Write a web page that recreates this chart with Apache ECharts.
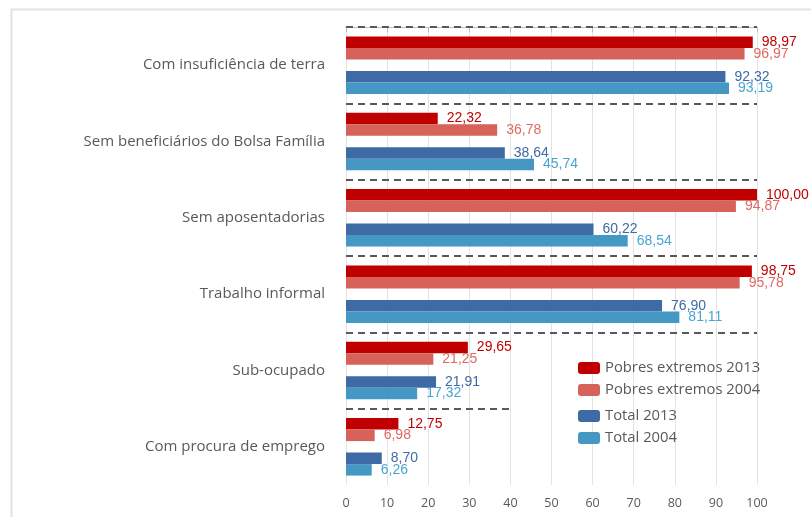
<!DOCTYPE html>
<html><head><meta charset="utf-8">
<script src="https://cdn.jsdelivr.net/npm/echarts@6/dist/echarts.min.js"></script>
<style>html,body{margin:0;padding:0;background:#fff}#c{width:811px;height:517px}</style>
</head><body><div id="c"></div>
<script>
const categories = ['Com insuficiência de terra','Sem beneficiários do Bolsa Família','Sem aposentadorias','Trabalho informal','Sub-ocupado','Com procura de emprego'];
const pobres2013 = [98.97, 22.32, 100.00, 98.75, 29.65, 12.75];
const pobres2004 = [96.97, 36.78, 94.87, 95.78, 21.25, 6.98];
const total2013 = [92.32, 38.64, 60.22, 76.90, 21.91, 8.70];
const total2004 = [93.19, 45.74, 68.54, 81.11, 17.32, 6.26];
const xTicks = [0,10,20,30,40,50,60,70,80,90,100];
const sepPos = [0,1,2,3,4,5];
const sepEnd = [100,100,100,100,100,40];

const fmt = p => p.value.toFixed(2).replace('.', ',');
const VFONT = 'Liberation Sans';
const FONT = 'Open Sans';
function barSeries(name, data, color, labelColor) {
  return {
    name, type: 'bar', data, barWidth: 11.5, barGap: '0%',
    itemStyle: { color },
    label: { show: true, position: 'right', distance: 9, formatter: fmt, color: labelColor, fontSize: 14, fontFamily: VFONT }
  };
}
const legendText = { color: '#595959', fontSize: 14.8, fontFamily: FONT, lineHeight: 17 };
const chart = echarts.init(document.getElementById('c'), null, { renderer: 'canvas' });
chart.setOption({
  animation: false,
  textStyle: { fontFamily: FONT },
  graphic: [{ type: 'rect', left: 9, top: 7, shape: { width: 830, height: 530 }, style: { fill: 'none', stroke: '#e2e2e2', lineWidth: 2 }, silent: true }],
  grid: { left: 346, right: 54, top: 27, bottom: 32 },
  legend: [
    { data: ['Pobres extremos 2013','Pobres extremos 2004'], orient: 'vertical', left: 578, top: 359.5, padding: 0, itemWidth: 22, itemHeight: 12, itemGap: 5, textStyle: legendText },
    { data: ['Total 2013','Total 2004'], orient: 'vertical', left: 578, top: 407.5, padding: 0, itemWidth: 22, itemHeight: 12, itemGap: 5, textStyle: legendText }
  ],
  xAxis: {
    type: 'value', min: 0, max: 100, interval: 10,
    axisLine: { show: true, lineStyle: { color: '#bfbfbf' } },
    axisTick: { show: true, length: 5, lineStyle: { color: '#bfbfbf' } },
    axisLabel: { color: '#595959', fontSize: 12.5, margin: 12, fontFamily: FONT, customValues: xTicks },
    splitLine: { show: true, lineStyle: { color: '#e3e3e3' } }
  },
  yAxis: [
    { type: 'category', data: categories, inverse: true,
      axisLine: { show: false }, axisTick: { show: false },
      axisLabel: { color: '#595959', fontSize: 15, margin: 21, fontFamily: FONT } },
    { type: 'value', min: 0, max: 6, inverse: true, show: false }
  ],
  series: [
    barSeries('Pobres extremos 2013', pobres2013, '#C00000', '#C00000'),
    barSeries('Pobres extremos 2004', pobres2004, '#D6625A', '#E06A62'),
    { name: 'gap', type: 'bar', data: [], barWidth: 11.5, barGap: '0%' },
    barSeries('Total 2013', total2013, '#3E6AA6', '#3E6AA6'),
    barSeries('Total 2004', total2004, '#4698C4', '#4AA3D2'),
    { name: 'sep', type: 'line', xAxisIndex: 0, yAxisIndex: 1, data: [], silent: true,
      markLine: { silent: true, symbol: ['none','none'], label: { show: false },
        lineStyle: { color: '#595959', width: 2, type: [7,5] },
        data: sepPos.map((y, i) => [{ coord: [0, y] }, { coord: [sepEnd[i], y] }]) } }
  ]
});
</script></body></html>
